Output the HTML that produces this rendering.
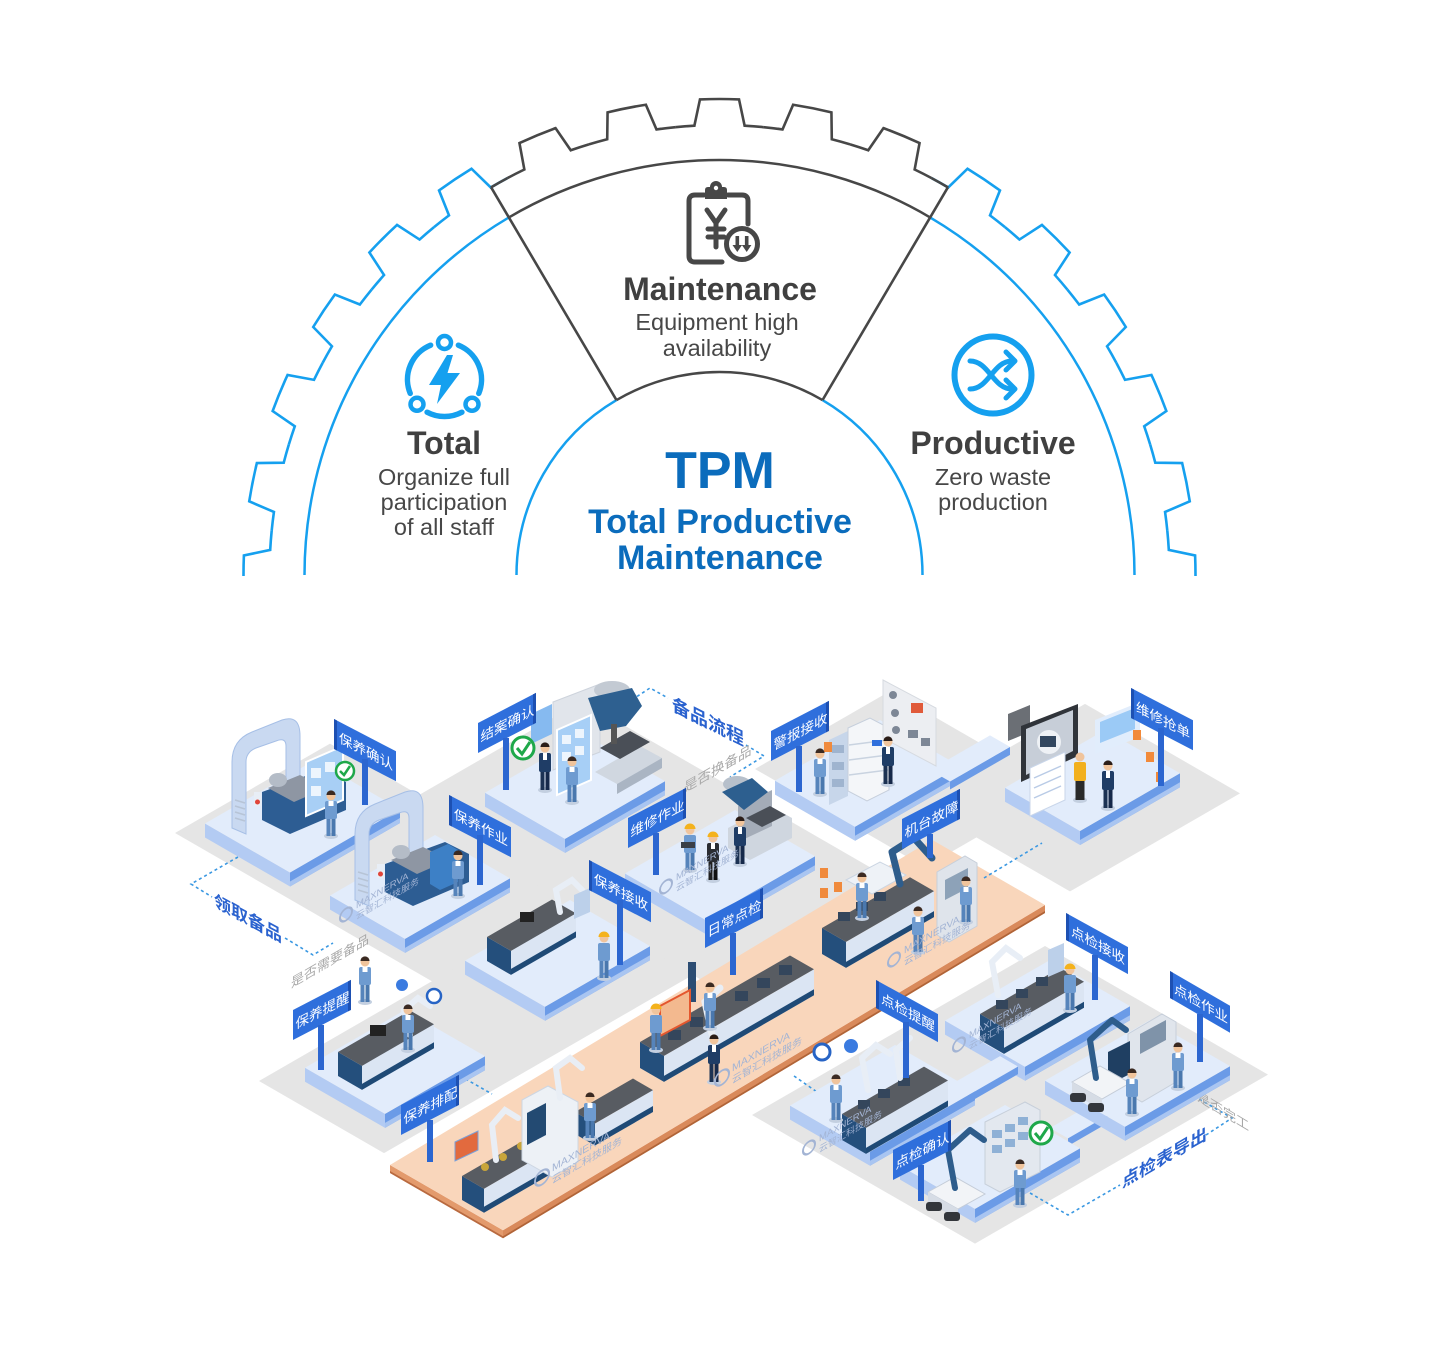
<!DOCTYPE html>
<html><head><meta charset="utf-8">
<style>
html,body{margin:0;padding:0;background:#fff;}
svg{display:block}
.en{font-family:"Liberation Sans",Arial,sans-serif;}
.cn{font-family:"Liberation Sans","Noto Sans CJK SC",sans-serif;}
.pl{fill:#b3cbf3}
.pr{fill:#6b9be7}
.pb{fill:#a9c5f1}
.pt{fill:#e2ecfb}
.g{fill:#e5e5e5}
.bd{fill:#2f6fdc}
.bs{fill:#1d50b2}
.post{fill:#2c66d0}
.dash{fill:none;stroke:#3a98e2;stroke-width:1.6;stroke-dasharray:3 3}
.wm{fill:#a3b4d4}
</style></head><body>
<svg width="1440" height="1349" viewBox="0 0 1440 1349" xmlns="http://www.w3.org/2000/svg">
<defs>
 <path id="tooth" d="M-44.11,-447.83 A450,450 0 0 1 -25.12,-449.30 L-19.52,-475.60 A476,476 0 0 1 19.52,-475.60 L25.12,-449.30 A450,450 0 0 1 44.11,-447.83" fill="none"/>
 <clipPath id="half"><rect x="0" y="0" width="1440" height="576"/></clipPath>
 <g id="wk">
  <ellipse cx="0" cy="0" rx="7" ry="3" fill="#c3cfe0"/>
  <rect x="-4.5" y="-19" width="4" height="19" fill="#5684bb"/>
  <rect x="0.5" y="-19" width="4" height="19" fill="#4a78ae"/>
  <rect x="-6" y="-35" width="12" height="18" rx="2" fill="#6e9bd0"/>
  <rect x="-2.5" y="-35" width="5" height="5" fill="#fff"/>
  <circle cx="0" cy="-40" r="4.5" fill="#f0c49c"/>
  <path d="M-4.6,-41 A4.6,4.6 0 0 1 4.6,-41 Z" fill="#3b2a22"/>
 </g>
 <g id="wky">
  <ellipse cx="0" cy="0" rx="7" ry="3" fill="#c3cfe0"/>
  <rect x="-4.5" y="-19" width="4" height="19" fill="#5684bb"/>
  <rect x="0.5" y="-19" width="4" height="19" fill="#4a78ae"/>
  <rect x="-6" y="-35" width="12" height="18" rx="2" fill="#6e9bd0"/>
  <circle cx="0" cy="-40" r="4.5" fill="#f0c49c"/>
  <path d="M-5.5,-41 A5.5,5.5 0 0 1 5.5,-41 Z" fill="#f4b21c"/>
 </g>
 <g id="mgr">
  <ellipse cx="0" cy="0" rx="7" ry="3" fill="#c3cfe0"/>
  <rect x="-4.5" y="-20" width="4" height="20" fill="#1c3253"/>
  <rect x="0.5" y="-20" width="4" height="20" fill="#16294a"/>
  <rect x="-6" y="-37" width="12" height="19" rx="2" fill="#1f3d66"/>
  <rect x="-2" y="-37" width="4" height="7" fill="#fff"/>
  <circle cx="0" cy="-42" r="4.5" fill="#f0c49c"/>
  <path d="M-4.6,-43 A4.6,4.6 0 0 1 4.6,-43 Z" fill="#2b1d17"/>
 </g>
 <g id="yhd">
  <ellipse cx="0" cy="0" rx="7" ry="3" fill="#c3cfe0"/>
  <rect x="-4.5" y="-20" width="4" height="20" fill="#202020"/>
  <rect x="0.5" y="-20" width="4" height="20" fill="#111"/>
  <rect x="-6" y="-37" width="12" height="19" rx="2" fill="#2a2d33"/>
  <rect x="-2" y="-37" width="4" height="6" fill="#fff"/>
  <circle cx="0" cy="-42" r="4.5" fill="#f0c49c"/>
  <path d="M-5.5,-43 A5.5,5.5 0 0 1 5.5,-43 Z" fill="#f4b21c"/>
 </g>
</defs>

<!-- ================= TOP GEAR DIAGRAM ================= -->
<g clip-path="url(#half)">
 <g transform="translate(719.5,575)" stroke-width="2.6" fill="none">
  <g stroke="#15a0ef">
   <use href="#tooth" transform="rotate(-90)"/>
   <use href="#tooth" transform="rotate(-78.75)"/>
   <use href="#tooth" transform="rotate(-67.5)"/>
   <use href="#tooth" transform="rotate(-56.25)"/>
   <use href="#tooth" transform="rotate(-45)"/>
   <use href="#tooth" transform="rotate(-33.75)"/>
   <use href="#tooth" transform="rotate(33.75)"/>
   <use href="#tooth" transform="rotate(45)"/>
   <use href="#tooth" transform="rotate(56.25)"/>
   <use href="#tooth" transform="rotate(67.5)"/>
   <use href="#tooth" transform="rotate(78.75)"/>
   <use href="#tooth" transform="rotate(90)"/>
  </g>
  <g stroke="#474747">
   <use href="#tooth" transform="rotate(-22.5)"/>
   <use href="#tooth" transform="rotate(-11.25)"/>
   <use href="#tooth" transform="rotate(0)"/>
   <use href="#tooth" transform="rotate(11.25)"/>
   <use href="#tooth" transform="rotate(22.5)"/>
   <path d="M-228.7,-387.5 A450,450 0 0 1 -212.1,-396.9"/>
   <path d="M212.1,-396.9 A450,450 0 0 1 228.7,-387.5"/>
  </g>
 </g>
 <g fill="none" stroke-width="2.5">
  <path d="M516.5,575 A203,203 0 0 1 616.5,400.1" stroke="#15a0ef"/>
  <path d="M822.5,400.1 A203,203 0 0 1 922.5,575" stroke="#15a0ef"/>
  <path d="M616.5,400.1 A203,203 0 0 1 822.5,400.1" stroke="#474747"/>
  <path d="M304.5,575 A415,415 0 0 1 508.9,217.4" stroke="#15a0ef"/>
  <path d="M930.1,217.4 A415,415 0 0 1 1134.5,575" stroke="#15a0ef"/>
  <path d="M508.9,217.4 A415,415 0 0 1 930.1,217.4" stroke="#474747"/>
  <path d="M616.5,400.1 L491.1,187.3 M822.5,400.1 L947.9,187.3" stroke="#474747" stroke-width="2.6"/>
 </g>
</g>

<!-- Maintenance icon -->
<g fill="none" stroke="#474747" stroke-width="5" stroke-linecap="round" stroke-linejoin="round">
 <path d="M704,195 H695 Q689,195 689,201 V256 Q689,262 695,262 H722"/>
 <path d="M728,195 H742 Q748,195 748,201 V224"/>
 <path d="M707,210 L716,223 L725,210 M716,223 V247 M708,229 H724 M708,237 H724"/>
 <circle cx="742" cy="244" r="15.5"/>
</g>
<path d="M705,199 V190 Q705,187 708,187 H710 A6,6 0 0 1 722,187 H724 Q727,187 727,190 V199 Z" fill="#474747"/>
<circle cx="716" cy="188" r="2.2" fill="#fff"/>
<g fill="#474747">
 <rect x="735.5" y="236" width="3.6" height="11"/>
 <rect x="744.9" y="236" width="3.6" height="11"/>
 <path d="M732.5,245 H742 L737.3,252 Z M741.9,245 H751.4 L746.7,252 Z"/>
</g>

<!-- Total icon -->
<g fill="none" stroke="#15a0ef" stroke-width="5.5" stroke-linecap="round">
 <path d="M458.4,345.2 A37,37 0 0 1 478.8,393.4"/>
 <path d="M461.9,412.2 A37,37 0 0 1 427.1,412.2"/>
 <path d="M410.2,393.4 A37,37 0 0 1 430.6,345.2"/>
</g>
<g fill="#fff" stroke="#15a0ef" stroke-width="4.5">
 <circle cx="444.5" cy="342.5" r="6.5"/>
 <circle cx="472" cy="404.3" r="6.5"/>
 <circle cx="417" cy="404.3" r="6.5"/>
</g>
<path d="M447,355 L429,385 L441,385 L437,404 L460,373 L447.5,373 L453,355 Z" fill="#15a0ef"/>

<!-- Productive icon -->
<circle cx="993" cy="375" r="38.5" fill="none" stroke="#15a0ef" stroke-width="6"/>
<g fill="none" stroke="#15a0ef" stroke-width="5" stroke-linecap="round" stroke-linejoin="round">
 <path d="M970,361 C989,361 993,389 1012,389"/>
 <path d="M970,389 C989,389 993,361 1012,361"/>
 <path d="M1006,352 L1015,361 L1006,370"/>
 <path d="M1006,380 L1015,389 L1006,398"/>
</g>

<!-- Top texts -->
<g class="en" text-anchor="middle">
 <text x="720" y="300" font-size="32" font-weight="bold" fill="#404040">Maintenance</text>
 <text x="717" y="330" font-size="23.5" fill="#474747">Equipment high</text>
 <text x="717" y="356" font-size="23.5" fill="#474747">availability</text>
 <text x="444" y="454" font-size="32" font-weight="bold" fill="#404040">Total</text>
 <text x="444" y="485" font-size="23.5" fill="#474747">Organize full</text>
 <text x="444" y="510" font-size="23.5" fill="#474747">participation</text>
 <text x="444" y="535" font-size="23.5" fill="#474747">of all staff</text>
 <text x="993" y="454" font-size="32" font-weight="bold" fill="#404040">Productive</text>
 <text x="993" y="485" font-size="23.5" fill="#474747">Zero waste</text>
 <text x="993" y="510" font-size="23.5" fill="#474747">production</text>
 <text x="720" y="488" font-size="52" font-weight="bold" fill="#0b6cbc">TPM</text>
 <text x="720" y="533" font-size="34" font-weight="bold" fill="#0b6cbc">Total Productive</text>
 <text x="720" y="569" font-size="34" font-weight="bold" fill="#0b6cbc">Maintenance</text>
</g>

<!-- ================= ISOMETRIC ILLUSTRATION ================= -->
<!-- grey floors -->
<g transform="matrix(1,-0.577,1,0.577,175,833)"><rect class="g" width="155" height="300"/></g>
<g transform="matrix(1,-0.577,1,0.577,259,1081)"><rect class="g" width="330" height="125"/></g>
<g transform="matrix(1,-0.577,1,0.577,400,806)"><rect class="g" width="182" height="337"/></g>
<g transform="matrix(1,-0.577,1,0.577,755,769)"><rect class="g" width="135" height="170"/></g>
<g transform="matrix(1,-0.577,1,0.577,915,802)"><rect class="g" width="170" height="155"/></g>
<g transform="matrix(1,-0.577,1,0.577,752,1115)"><rect class="g" width="293" height="223"/></g>

<!-- orange strip -->
<g transform="matrix(1,0.577,0,1,390,1165)"><rect width="113" height="8" fill="#e39a6c"/><rect y="6" width="113" height="2" fill="#b86a40"/></g>
<g transform="matrix(1,-0.6,0,1,503,1230.2)"><rect width="542" height="8" fill="#d98a5b"/><rect y="6" width="542" height="2" fill="#b06438"/></g>
<g transform="matrix(1,-0.6,1,0.577,390,1165)"><rect width="542" height="113" fill="#f9d6bb"/></g>

<!-- dashed connectors -->
<polyline class="dash" points="627,703 650,688 668,698"/>
<polyline class="dash" points="746,745 764,756 730,777"/>
<polyline class="dash" points="238,857 191,884 212,897"/>
<polyline class="dash" points="285,938 313,955 333,943"/>
<polyline class="dash" points="455,1073 492,1094"/>
<polyline class="dash" points="984,878 1042,843"/>
<polyline class="dash" points="794,1076 830,1101"/>
<polyline class="dash" points="1030,1193 1068,1215 1120,1185"/>
<polyline class="dash" points="1206,1135 1232,1118 1187,1092"/>

<!-- floor labels -->
<g class="cn" font-weight="bold" fill="#2a62cf">
 <text transform="matrix(1,0.5,0,1,672,710)" font-size="18">备品流程</text>
 <text transform="matrix(1,0.54,0,1,214,906)" font-size="17">领取备品</text>
 <text transform="matrix(1,-0.577,0,1,1122,1188)" font-size="17">点检表导出</text>
</g>
<g class="cn" fill="#a8a8a8">
 <text transform="matrix(1,-0.58,0,1,684,793)" font-size="13.5">是否换备品</text>
 <text transform="matrix(1,-0.58,0,1,291,988)" font-size="13">是否需要备品</text>
 <text transform="matrix(1,0.6,0,1,1197,1100)" font-size="13">是否完工</text>
</g>

<!-- ===== Station 5: 结案确认 ===== -->
<g transform="matrix(1,0.577,0,1,485,792.7)"><rect class="pl" width="80" height="14"/></g>
<g transform="matrix(1,-0.577,0,1,565,838.9)"><rect class="pr" width="100" height="14"/><rect class="pb" y="9" width="100" height="5"/></g>
<g transform="matrix(1,-0.577,1,0.577,485,792.7)"><rect class="pt" width="100" height="80"/></g>
<polygon points="553,702 600,684 600,752 553,770" fill="#e1e5eb" stroke="#cdd3dc"/>
<polygon points="595,772 640,746 662,758 617,784" fill="#d0d7e0"/>
<polygon points="617,784 662,758 662,768 617,794" fill="#aab5c3"/>
<polygon points="600,748 630,731 650,742 620,759" fill="#4a4f57"/>
<ellipse cx="612" cy="690" rx="18" ry="9" fill="#c3cad3"/>
<polygon points="588,698 632,688 642,706 626,726 600,731" fill="#2e6090"/>
<rect x="611" y="724" width="6" height="20" fill="#555"/>
<polygon points="557,730 591,715 591,780 557,795" fill="#a7cff6" stroke="#fff" stroke-width="2"/>
<g fill="#fff" opacity="0.8"><rect x="562" y="735" width="9" height="9"/><rect x="575" y="729" width="9" height="9"/><rect x="562" y="752" width="9" height="9"/><rect x="575" y="746" width="9" height="9"/></g>
<polygon points="531,714 552,704 552,734 531,744" fill="#86baf0"/>
<circle cx="523" cy="748" r="11" fill="#fff" stroke="#1fa84a" stroke-width="3"/>
<path d="M517,748 L522,754 L530,742" fill="none" stroke="#1fa84a" stroke-width="3"/>
<use href="#mgr" x="545" y="790"/>
<use href="#wk" x="572" y="802"/>
<g transform="matrix(1,-0.52,0,1,478,723)"><rect class="bd" width="58" height="30"/><rect class="bs" x="55" width="3" height="30"/><text class="cn" x="2.5" y="20.5" font-size="13.5" fill="#fff">结案确认</text></g>
<rect class="post" x="503" y="738" width="6" height="52"/>

<!-- ===== Station 7: 警报接收 ===== -->
<g transform="matrix(1,0.577,0,1,775,780.6)"><rect class="pl" width="80" height="14"/></g>
<g transform="matrix(1,-0.577,0,1,855,826.8)"><rect class="pr" width="105" height="14"/><rect class="pb" y="9" width="105" height="5"/></g>
<g transform="matrix(1,-0.577,1,0.577,775,780.6)"><rect class="pt" width="105" height="80"/></g>
<!-- bridge 7-8 -->
<g transform="matrix(1,-0.577,0,1,950,781.5)"><rect class="pr" width="60" height="8"/></g>
<g transform="matrix(1,-0.577,1,0.577,930,770)"><rect class="pt" width="60" height="20"/></g>
<polygon points="829,740 848,731 848,796 829,805" fill="#c7d6ea"/>
<g fill="#9fb4cf"><rect x="832" y="745" width="12" height="8"/><rect x="832" y="762" width="12" height="8"/><rect x="832" y="779" width="12" height="8"/></g>
<polygon points="848,728 870,718 889,728 889,790 867,801 848,791" fill="#f4f6f9" stroke="#c6cfdc"/>
<g stroke="#c9d3e0" stroke-width="1.5"><line x1="849" y1="745" x2="888" y2="740"/><line x1="849" y1="760" x2="888" y2="755"/><line x1="849" y1="775" x2="888" y2="770"/></g>
<rect x="872" y="740" width="10" height="6" fill="#2f6fdc"/>
<polygon points="883,680 936,708 936,766 883,738" fill="#eceef2" stroke="#d6dae0"/>
<g fill="#7d8796"><circle cx="893" cy="695" r="4"/><circle cx="895" cy="713" r="4"/><circle cx="896" cy="730" r="4"/><rect x="908" y="730" width="10" height="8"/><rect x="921" y="738" width="9" height="8"/></g>
<rect x="911" y="703" width="12" height="10" fill="#e05a3a"/>
<rect x="824" y="742" width="8" height="10" fill="#f08a3c"/>
<use href="#wk" x="820" y="794"/>
<use href="#mgr" x="888" y="784"/>
<g transform="matrix(1,-0.52,0,1,771,731)"><rect class="bd" width="58" height="30"/><rect class="bs" x="55" width="3" height="30"/><text class="cn" x="2.5" y="20.5" font-size="13.5" fill="#fff">警报接收</text></g>
<rect class="post" x="796" y="746" width="6" height="46"/>

<!-- ===== Station 8: 维修抢单 ===== -->
<g transform="matrix(1,0.577,0,1,1005,787.7)"><rect class="pl" width="75" height="14"/></g>
<g transform="matrix(1,-0.577,0,1,1080,831)"><rect class="pr" width="100" height="14"/><rect class="pb" y="9" width="100" height="5"/></g>
<g transform="matrix(1,-0.577,1,0.577,1005,787.7)"><rect class="pt" width="100" height="75"/></g>
<polygon points="1008,714 1030,705 1030,732 1008,741" fill="#6b6f75"/>
<polygon points="1021,726 1078,704 1078,756 1021,782" fill="#30343a"/>
<polygon points="1026,729 1073,710 1073,751 1026,775" fill="#c7ced8"/>
<circle cx="1049" cy="742" r="12" fill="#eef1f5"/>
<rect x="1040" y="736" width="16" height="11" fill="#33475f"/>
<polygon points="1030,768 1065,752 1065,800 1030,816" fill="#fff" stroke="#c9d6ea"/>
<g stroke="#b9cbe6" stroke-width="1.5"><line x1="1034" y1="778" x2="1061" y2="766"/><line x1="1034" y1="788" x2="1061" y2="776"/><line x1="1034" y1="798" x2="1061" y2="786"/></g>
<polygon points="1095,720 1140,702 1140,737 1095,754" fill="#e1edfc"/>
<polygon points="1100,722 1135,708 1135,729 1100,743" fill="#9bcaf6"/>
<g fill="#f28a3a"><rect x="1133" y="730" width="8" height="10"/><rect x="1146" y="752" width="8" height="10"/><rect x="1156" y="772" width="8" height="10"/></g>
<g>
 <ellipse cx="1080" cy="800" rx="7" ry="3" fill="#c3cfe0"/>
 <rect x="1075.5" y="780" width="9" height="20" fill="#2a2a2a"/>
 <rect x="1074" y="762" width="12" height="19" rx="2" fill="#f2b01e"/>
 <circle cx="1080" cy="757" r="4.5" fill="#f0c49c"/>
</g>
<use href="#mgr" x="1108" y="808"/>
<g transform="matrix(1,0.52,0,1,1131,688)"><rect class="bd" width="62" height="30"/><rect class="bs" width="3" height="30"/><text class="cn" x="5" y="20.5" font-size="13.5" fill="#fff">维修抢单</text></g>
<rect class="post" x="1158" y="728" width="6" height="58"/>

<!-- ===== Station 1: 保养确认 ===== -->
<g transform="matrix(1,0.577,0,1,205,823.5)"><rect class="pl" width="85" height="14"/></g>
<g transform="matrix(1,-0.577,0,1,290,872.5)"><rect class="pr" width="110" height="14"/><rect class="pb" y="9" width="110" height="5"/></g>
<g transform="matrix(1,-0.577,1,0.577,205,823.5)"><rect class="pt" width="110" height="85"/></g>
<g id="lathe">
 <path d="M232,828 L232,762 Q232,740 252,732 L282,720 Q300,714 300,736 L300,804 L286,810 L286,746 Q286,737 276,741 L256,748 Q246,752 246,762 L246,834 Z" fill="#c9d9f1" stroke="#a6bfe6"/>
 <g stroke="#b7c4d6" stroke-width="1.5"><line x1="235" y1="800" x2="245" y2="803"/><line x1="235" y1="806" x2="245" y2="809"/><line x1="235" y1="812" x2="245" y2="815"/><line x1="235" y1="818" x2="245" y2="821"/></g>
 <polygon points="262,792 322,770 346,782 346,810 290,834 262,820" fill="#2d5d93"/>
 <polygon points="268,788 300,775 326,788 294,802" fill="#8e96a3"/>
 <ellipse cx="278" cy="780" rx="9" ry="7" fill="#b4bcc7"/>
 <rect x="254" y="792" width="7" height="14" fill="#e8eef6"/>
 <circle cx="257.5" cy="802" r="2.5" fill="#e0453a"/>
</g>
<polygon points="306,762 343,746 343,800 306,816" fill="#a8cff5" stroke="#fff" stroke-width="2"/>
<g fill="#fff" opacity="0.8"><rect x="311" y="768" width="10" height="10"/><rect x="325" y="762" width="10" height="10"/><rect x="311" y="786" width="10" height="10"/></g>
<circle cx="345" cy="771" r="9" fill="#fff" stroke="#1fa84a" stroke-width="2.5"/>
<path d="M340,771 L344,775 L350,766" fill="none" stroke="#1fa84a" stroke-width="2.5"/>
<use href="#wk" x="331" y="836"/>
<g transform="matrix(1,0.52,0,1,334,719)"><rect class="bd" width="62" height="30"/><rect class="bs" width="3" height="30"/><text class="cn" x="5" y="20.5" font-size="13.5" fill="#fff">保养确认</text></g>
<rect class="post" x="362" y="759" width="6" height="46"/>

<!-- ===== Station 6: 维修作业 ===== -->
<g transform="matrix(1,0.577,0,1,625,873.5)"><rect class="pl" width="80" height="14"/></g>
<g transform="matrix(1,-0.577,0,1,705,919.7)"><rect class="pr" width="110" height="14"/><rect class="pb" y="9" width="110" height="5"/></g>
<g transform="matrix(1,-0.577,1,0.577,625,873.5)"><rect class="pt" width="110" height="80"/></g>
<polygon points="728,828 770,806 792,818 792,838 750,860 728,848" fill="#cfd6df"/>
<polygon points="738,806 772,790 772,826 738,842" fill="#a4acb8"/>
<polygon points="746,818 770,806 786,815 762,827" fill="#4a4f57"/>
<ellipse cx="737" cy="784" rx="14" ry="8" fill="#b7c0cb"/>
<polygon points="722,792 752,778 768,792 744,810" fill="#2d5f8f"/>
<use href="#wky" x="690" y="870"/>
<use href="#yhd" x="713" y="880"/>
<use href="#mgr" x="740" y="864"/>
<rect x="681" y="842" width="14" height="6" fill="#3a3f46"/>
<g transform="matrix(1,-0.52,0,1,628,818)"><rect class="bd" width="58" height="30"/><rect class="bs" x="55" width="3" height="30"/><text class="cn" x="2.5" y="20.5" font-size="13.5" fill="#fff">维修作业</text></g>
<rect class="post" x="653" y="833" width="6" height="42"/>
<g class="wm" transform="matrix(1,-0.577,0,1,672,887)"><circle cx="-6" cy="-4" r="6" fill="none" stroke="#a3b4d4" stroke-width="2"/><text x="4" y="-4" font-size="9.5" class="en">MAXNERVA</text><text x="4" y="7" font-size="9" class="cn">云智汇科技服务</text></g>

<!-- ===== Station 2: 保养作业 ===== -->
<g transform="matrix(1,0.577,0,1,330,895.6)"><rect class="pl" width="75" height="14"/></g>
<g transform="matrix(1,-0.577,0,1,405,938.9)"><rect class="pr" width="105" height="14"/><rect class="pb" y="9" width="105" height="5"/></g>
<g transform="matrix(1,-0.577,1,0.577,330,895.6)"><rect class="pt" width="105" height="75"/></g>
<use href="#lathe" transform="translate(123,72)"/>
<polygon points="430,852 448,844 458,850 458,882 440,890 430,884" fill="#3d80c6"/>
<use href="#wk" x="458" y="896"/>
<g class="wm" transform="matrix(1,-0.577,0,1,352,915)"><circle cx="-6" cy="-4" r="6" fill="none" stroke="#a3b4d4" stroke-width="2"/><text x="4" y="-4" font-size="9.5" class="en">MAXNERVA</text><text x="4" y="7" font-size="9" class="cn">云智汇科技服务</text></g>
<g transform="matrix(1,0.52,0,1,449,795)"><rect class="bd" width="62" height="30"/><rect class="bs" width="3" height="30"/><text class="cn" x="5" y="20.5" font-size="13.5" fill="#fff">保养作业</text></g>
<rect class="post" x="477" y="835" width="6" height="50"/>

<!-- ===== Station 3: 保养接收 ===== -->
<g transform="matrix(1,0.577,0,1,465,960.6)"><rect class="pl" width="80" height="14"/></g>
<g transform="matrix(1,-0.577,0,1,545,1006.8)"><rect class="pr" width="105" height="14"/><rect class="pb" y="9" width="105" height="5"/></g>
<g transform="matrix(1,-0.577,1,0.577,465,960.6)"><rect class="pt" width="105" height="80"/></g>
<g transform="translate(487,937)">
 <g transform="matrix(1,0.577,0,1,0,0)"><rect width="24" height="24" fill="#244f7c"/></g>
 <g transform="matrix(1,-0.577,0,1,24,13.85)"><rect width="65" height="24" fill="#dbe5f3"/><rect y="18" width="65" height="6" fill="#1f4a76"/></g>
 <g transform="matrix(1,-0.577,1,0.577,0,0)"><rect width="65" height="24" fill="#585c62"/></g>
</g>
<rect x="520" y="912" width="14" height="10" fill="#222"/>
<path d="M560,912 L556,890 L572,880 L582,890" fill="none" stroke="#e8eef6" stroke-width="6" stroke-linecap="round"/>
<polygon points="574,895 590,888 590,912 574,919" fill="#bcd0ea"/>
<use href="#wky" x="604" y="978"/>
<g transform="matrix(1,0.52,0,1,589,860)"><rect class="bd" width="62" height="30"/><rect class="bs" width="3" height="30"/><text class="cn" x="5" y="20.5" font-size="13.5" fill="#fff">保养接收</text></g>
<rect class="post" x="617" y="900" width="6" height="65"/>

<!-- ===== Station 4: 保养提醒 ===== -->
<g transform="matrix(1,0.577,0,1,305,1067.7)"><rect class="pl" width="80" height="14"/></g>
<g transform="matrix(1,-0.577,0,1,385,1113.9)"><rect class="pr" width="100" height="14"/><rect class="pb" y="9" width="100" height="5"/></g>
<g transform="matrix(1,-0.577,1,0.577,305,1067.7)"><rect class="pt" width="100" height="80"/></g>
<g transform="translate(338,1052)">
 <g transform="matrix(1,0.577,0,1,0,0)"><rect width="24" height="24" fill="#244f7c"/></g>
 <g transform="matrix(1,-0.577,0,1,24,13.85)"><rect width="72" height="24" fill="#dbe5f3"/><rect y="18" width="72" height="6" fill="#1f4a76"/></g>
 <g transform="matrix(1,-0.577,1,0.577,0,0)"><rect width="72" height="24" fill="#585c62"/></g>
</g>
<rect x="370" y="1025" width="16" height="11" fill="#222"/>
<path d="M410,1035 L404,1010 L418,998 L430,1006" fill="none" stroke="#e8eef6" stroke-width="6" stroke-linecap="round"/>
<use href="#wk" x="365" y="1002"/>
<use href="#wk" x="408" y="1050"/>
<circle cx="434" cy="996" r="7" fill="#fff" stroke="#2764c5" stroke-width="2.5"/>
<circle cx="402" cy="985" r="6" fill="#3a7be0"/>
<g transform="matrix(1,-0.52,0,1,293,1010)"><rect class="bd" width="58" height="30"/><rect class="bs" x="55" width="3" height="30"/><text class="cn" x="2.5" y="20.5" font-size="13.5" fill="#fff">保养提醒</text></g>
<rect class="post" x="318" y="1025" width="6" height="45"/>

<!-- ===== 机台故障 (orange) ===== -->
<g transform="translate(822,928)">
 <g transform="matrix(1,0.577,0,1,0,0)"><rect width="24" height="26" fill="#244f7c"/></g>
 <g transform="matrix(1,-0.577,0,1,24,13.85)"><rect width="88" height="26" fill="#dbe5f3"/><rect y="20" width="88" height="6" fill="#1f4a76"/></g>
 <g transform="matrix(1,-0.577,1,0.577,0,0)"><rect width="88" height="24" fill="#585c62"/></g>
</g>
<g fill="#34465c"><rect x="838" y="912" width="12" height="9"/><rect x="856" y="902" width="12" height="9"/><rect x="874" y="892" width="12" height="9"/></g>
<polygon points="846,880 880,862 906,875 872,894" fill="#eef2f7" stroke="#cbd5e2"/>
<path d="M900,884 L892,852 L914,838 L932,858" fill="none" stroke="#2e5d8c" stroke-width="7" stroke-linecap="round" stroke-linejoin="round"/>
<polygon points="937,872 965,856 977,863 977,926 949,942 937,935" fill="#dfe4eb" stroke="#c7cfda"/>
<polygon points="945,880 968,868 968,888 945,900" fill="#8da2b8"/>
<g fill="#f08a3c"><rect x="820" y="868" width="8" height="10"/><rect x="834" y="882" width="8" height="10"/><rect x="820" y="888" width="8" height="10"/></g>
<use href="#wk" x="862" y="918"/>
<use href="#wk" x="918" y="952"/>
<use href="#wk" x="966" y="922"/>
<g class="wm" transform="matrix(1,-0.577,0,1,900,960)"><circle cx="-6" cy="-4" r="6" fill="none" stroke="#a3b4d4" stroke-width="2"/><text x="4" y="-4" font-size="10" class="en">MAXNERVA</text><text x="4" y="8" font-size="9.5" class="cn">云智汇科技服务</text></g>
<g transform="matrix(1,-0.52,0,1,902,819)"><rect class="bd" width="58" height="30"/><rect class="bs" x="55" width="3" height="30"/><text class="cn" x="2.5" y="20.5" font-size="13.5" fill="#fff">机台故障</text></g>
<rect class="post" x="927" y="834" width="6" height="24"/>

<!-- ===== 日常点检 (orange) ===== -->
<g transform="translate(640,1042)">
 <g transform="matrix(1,0.577,0,1,0,0)"><rect width="24" height="26" fill="#244f7c"/></g>
 <g transform="matrix(1,-0.577,0,1,24,13.85)"><rect width="150" height="26" fill="#dbe5f3"/><rect y="20" width="150" height="6" fill="#1f4a76"/></g>
 <g transform="matrix(1,-0.577,1,0.577,0,0)"><rect width="150" height="24" fill="#585c62"/></g>
</g>
<g fill="#34465c"><rect x="668" y="1030" width="13" height="10"/><rect x="690" y="1017" width="13" height="10"/><rect x="735" y="991" width="13" height="10"/><rect x="757" y="978" width="13" height="10"/><rect x="779" y="965" width="13" height="10"/></g>
<rect x="688" y="962" width="8" height="40" fill="#2c4d73"/>
<polygon points="660,1006 690,990 690,1020 660,1036" fill="#f3b98f" stroke="#e4572e" stroke-width="2"/>
<path d="M712,1034 L705,1002 L720,988" fill="none" stroke="#e9eef5" stroke-width="7" stroke-linecap="round"/>
<use href="#wky" x="656" y="1050"/>
<use href="#wk" x="710" y="1028"/>
<use href="#mgr" x="714" y="1082"/>
<g class="wm" transform="matrix(1,-0.577,0,1,728,1078)"><circle cx="-6" cy="-4" r="7" fill="none" stroke="#a3b4d4" stroke-width="2"/><text x="4" y="-4" font-size="10.5" class="en">MAXNERVA</text><text x="4" y="8" font-size="10" class="cn">云智汇科技服务</text></g>
<g transform="matrix(1,-0.52,0,1,705,918)"><rect class="bd" width="58" height="30"/><rect class="bs" x="55" width="3" height="30"/><text class="cn" x="2.5" y="20.5" font-size="13.5" fill="#fff">日常点检</text></g>
<rect class="post" x="730" y="933" width="6" height="42"/>

<!-- ===== 保养排配 (orange) ===== -->
<g transform="translate(462,1176)">
 <g transform="matrix(1,0.577,0,1,0,0)"><rect width="22" height="24" fill="#244f7c"/></g>
 <g transform="matrix(1,-0.577,0,1,22,12.7)"><rect width="80" height="24" fill="#dbe5f3"/><rect y="18" width="80" height="6" fill="#1f4a76"/></g>
 <g transform="matrix(1,-0.577,1,0.577,0,0)"><rect width="80" height="22" fill="#585c62"/></g>
</g>
<g transform="translate(575,1112)">
 <g transform="matrix(1,0.577,0,1,0,0)"><rect width="20" height="22" fill="#244f7c"/></g>
 <g transform="matrix(1,-0.577,0,1,20,11.5)"><rect width="58" height="22" fill="#dbe5f3"/><rect y="16" width="58" height="6" fill="#1f4a76"/></g>
 <g transform="matrix(1,-0.577,1,0.577,0,0)"><rect width="58" height="20" fill="#585c62"/></g>
</g>
<g fill="#c9a53a"><circle cx="485" cy="1167" r="4"/><circle cx="503" cy="1157" r="4"/><circle cx="521" cy="1146" r="4"/></g>
<polygon points="522,1100 548,1086 578,1102 578,1162 552,1177 522,1160" fill="#edf1f6" stroke="#cdd6e2"/>
<polygon points="527,1113 546,1103 546,1135 527,1145" fill="#234a72"/>
<path d="M496,1160 L492,1125 L505,1110 L518,1118" fill="none" stroke="#e9eef5" stroke-width="6" stroke-linecap="round"/>
<path d="M560,1098 L556,1068 L570,1058 L582,1068" fill="none" stroke="#e9eef5" stroke-width="6" stroke-linecap="round"/>
<polygon points="455,1142 478,1131 478,1150 455,1161" fill="#e26a3e" stroke="#7aa0d8"/>
<use href="#wk" x="590" y="1138"/>
<g class="wm" transform="matrix(1,-0.577,0,1,548,1178)"><circle cx="-6" cy="-4" r="7" fill="none" stroke="#a3b4d4" stroke-width="2"/><text x="4" y="-4" font-size="10.5" class="en">MAXNERVA</text><text x="4" y="8" font-size="10" class="cn">云智汇科技服务</text></g>
<g transform="matrix(1,-0.52,0,1,401,1105)"><rect class="bd" width="58" height="30"/><rect class="bs" x="55" width="3" height="30"/><text class="cn" x="2.5" y="20.5" font-size="13.5" fill="#fff">保养排配</text></g>
<rect class="post" x="427" y="1120" width="6" height="42"/>

<!-- ===== Station 9: 点检接收 ===== -->
<g transform="matrix(1,0.577,0,1,945,1020.6)"><rect class="pl" width="80" height="14"/></g>
<g transform="matrix(1,-0.577,0,1,1025,1066.8)"><rect class="pr" width="105" height="14"/><rect class="pb" y="9" width="105" height="5"/></g>
<g transform="matrix(1,-0.577,1,0.577,945,1020.6)"><rect class="pt" width="105" height="80"/></g>
<!-- bridges -->
<g transform="matrix(1,-0.577,0,1,968,1095)"><rect class="pr" width="50" height="8"/></g>
<g transform="matrix(1,-0.577,1,0.577,950,1085)"><rect class="pt" width="50" height="18"/></g>
<g transform="matrix(1,-0.577,0,1,1068,1138)"><rect class="pr" width="40" height="8"/></g>
<g transform="matrix(1,-0.577,1,0.577,1050,1128)"><rect class="pt" width="40" height="18"/></g>
<g transform="translate(980,1014)">
 <g transform="matrix(1,0.577,0,1,0,0)"><rect width="24" height="26" fill="#244f7c"/></g>
 <g transform="matrix(1,-0.577,0,1,24,13.85)"><rect width="80" height="26" fill="#dbe5f3"/><rect y="20" width="80" height="6" fill="#1f4a76"/></g>
 <g transform="matrix(1,-0.577,1,0.577,0,0)"><rect width="80" height="24" fill="#585c62"/></g>
</g>
<g fill="#34465c"><rect x="996" y="1000" width="12" height="9"/><rect x="1016" y="989" width="12" height="9"/><rect x="1036" y="977" width="12" height="9"/></g>
<path d="M998,995 L992,962 L1006,948 L1020,958" fill="none" stroke="#e8eef6" stroke-width="6" stroke-linecap="round"/>
<polygon points="1048,950 1064,943 1064,970 1048,977" fill="#bcd0ea"/>
<use href="#wky" x="1070" y="1010"/>
<g class="wm" transform="matrix(1,-0.577,0,1,965,1045)"><circle cx="-6" cy="-4" r="6" fill="none" stroke="#a3b4d4" stroke-width="2"/><text x="4" y="-4" font-size="9.5" class="en">MAXNERVA</text><text x="4" y="7" font-size="9" class="cn">云智汇科技服务</text></g>
<g transform="matrix(1,0.55,0,1,1066,913)"><rect class="bd" width="62" height="27"/><rect class="bs" width="3" height="27"/><text class="cn" x="5" y="19" font-size="13.5" fill="#fff">点检接收</text></g>
<rect class="post" x="1092" y="955" width="6" height="45"/>

<!-- ===== Station 10: 点检作业 ===== -->
<g transform="matrix(1,0.577,0,1,1045,1080.6)"><rect class="pl" width="80" height="14"/></g>
<g transform="matrix(1,-0.577,0,1,1125,1126.8)"><rect class="pr" width="105" height="14"/><rect class="pb" y="9" width="105" height="5"/></g>
<g transform="matrix(1,-0.577,1,0.577,1045,1080.6)"><rect class="pt" width="105" height="80"/></g>
<polygon points="1128,1034 1162,1014 1176,1022 1176,1082 1142,1102 1128,1094" fill="#e0e5ec" stroke="#c7cfda"/>
<polygon points="1140,1034 1166,1020 1166,1040 1140,1054" fill="#7f93a9"/>
<polygon points="1108,1052 1130,1041 1130,1074 1108,1085" fill="#1f3f62"/>
<polygon points="1072,1082 1100,1066 1130,1083 1102,1099" fill="#f2f4f7" stroke="#c4ccd8"/>
<polygon points="1072,1082 1102,1099 1102,1110 1072,1093" fill="#d6dce5"/>
<g fill="#33363b"><rect x="1070" y="1093" width="16" height="9" rx="3"/><rect x="1088" y="1103" width="16" height="9" rx="3"/></g>
<path d="M1096,1078 L1090,1040 L1112,1020 L1126,1030" fill="none" stroke="#2e5d8c" stroke-width="6" stroke-linecap="round" stroke-linejoin="round"/>
<use href="#wk" x="1132" y="1114"/>
<use href="#wk" x="1178" y="1088"/>
<g transform="matrix(1,0.58,0,1,1170,971)"><rect class="bd" width="60" height="27"/><rect class="bs" width="3" height="27"/><text class="cn" x="4" y="19" font-size="13.5" fill="#fff">点检作业</text></g>
<rect class="post" x="1197" y="1014" width="6" height="48"/>

<!-- ===== Station 11: 点检提醒 ===== -->
<g transform="matrix(1,0.577,0,1,790,1105.6)"><rect class="pl" width="80" height="14"/></g>
<g transform="matrix(1,-0.577,0,1,870,1151.8)"><rect class="pr" width="105" height="14"/><rect class="pb" y="9" width="105" height="5"/></g>
<g transform="matrix(1,-0.577,1,0.577,790,1105.6)"><rect class="pt" width="105" height="80"/></g>
<g transform="translate(842,1114)">
 <g transform="matrix(1,0.577,0,1,0,0)"><rect width="24" height="26" fill="#244f7c"/></g>
 <g transform="matrix(1,-0.577,0,1,24,13.85)"><rect width="82" height="26" fill="#dbe5f3"/><rect y="20" width="82" height="6" fill="#1f4a76"/></g>
 <g transform="matrix(1,-0.577,1,0.577,0,0)"><rect width="82" height="24" fill="#585c62"/></g>
</g>
<g fill="#34465c"><rect x="858" y="1100" width="12" height="9"/><rect x="878" y="1089" width="12" height="9"/><rect x="898" y="1077" width="12" height="9"/></g>
<path d="M868,1090 L862,1058 L876,1045 L890,1054" fill="none" stroke="#e8eef6" stroke-width="6" stroke-linecap="round"/>
<path d="M900,1078 L896,1050 L910,1038" fill="none" stroke="#e8eef6" stroke-width="6" stroke-linecap="round"/>
<use href="#wk" x="836" y="1120"/>
<circle cx="822" cy="1052" r="8" fill="#fff" stroke="#2764c5" stroke-width="3"/>
<circle cx="851" cy="1046" r="7" fill="#3a7be0"/>
<g class="wm" transform="matrix(1,-0.577,0,1,815,1148)"><circle cx="-6" cy="-4" r="6" fill="none" stroke="#a3b4d4" stroke-width="2"/><text x="4" y="-4" font-size="9.5" class="en">MAXNERVA</text><text x="4" y="7" font-size="9" class="cn">云智汇科技服务</text></g>
<g transform="matrix(1,0.55,0,1,876,980)"><rect class="bd" width="62" height="28"/><rect class="bs" width="3" height="28"/><text class="cn" x="5" y="19.5" font-size="13.5" fill="#fff">点检提醒</text></g>
<rect class="post" x="903" y="1022" width="6" height="56"/>

<!-- ===== Station 12: 点检确认 ===== -->
<g transform="matrix(1,0.577,0,1,900,1165.6)"><rect class="pl" width="75" height="14"/></g>
<g transform="matrix(1,-0.577,0,1,975,1208.9)"><rect class="pr" width="105" height="14"/><rect class="pb" y="9" width="105" height="5"/></g>
<g transform="matrix(1,-0.577,1,0.577,900,1165.6)"><rect class="pt" width="105" height="75"/></g>
<polygon points="985,1122 1025,1102 1040,1110 1040,1172 1000,1192 985,1184" fill="#e3e8ef" stroke="#c7cfda"/>
<g fill="#8fb1d6"><rect x="992" y="1130" width="10" height="8"/><rect x="1005" y="1124" width="10" height="8"/><rect x="1018" y="1117" width="10" height="8"/><rect x="992" y="1145" width="10" height="8"/><rect x="1005" y="1139" width="10" height="8"/><rect x="1018" y="1132" width="10" height="8"/></g>
<polygon points="928,1192 955,1177 985,1194 958,1209" fill="#f2f4f7" stroke="#c4ccd8"/>
<polygon points="928,1192 958,1209 958,1219 928,1202" fill="#d6dce5"/>
<g fill="#33363b"><rect x="926" y="1202" width="16" height="9" rx="3"/><rect x="944" y="1212" width="16" height="9" rx="3"/></g>
<path d="M955,1188 L948,1150 L970,1130 L984,1140" fill="none" stroke="#2e5d8c" stroke-width="6" stroke-linecap="round" stroke-linejoin="round"/>
<circle cx="1041" cy="1133" r="11" fill="#fff" stroke="#1fa84a" stroke-width="3"/>
<path d="M1035,1133 L1040,1139 L1048,1127" fill="none" stroke="#1fa84a" stroke-width="3"/>
<use href="#wk" x="1020" y="1205"/>
<g transform="matrix(1,-0.52,0,1,893,1150)"><rect class="bd" width="58" height="30"/><rect class="bs" x="55" width="3" height="30"/><text class="cn" x="2.5" y="20.5" font-size="13.5" fill="#fff">点检确认</text></g>
<rect class="post" x="918" y="1165" width="6" height="36"/>

</svg>
</body></html>
